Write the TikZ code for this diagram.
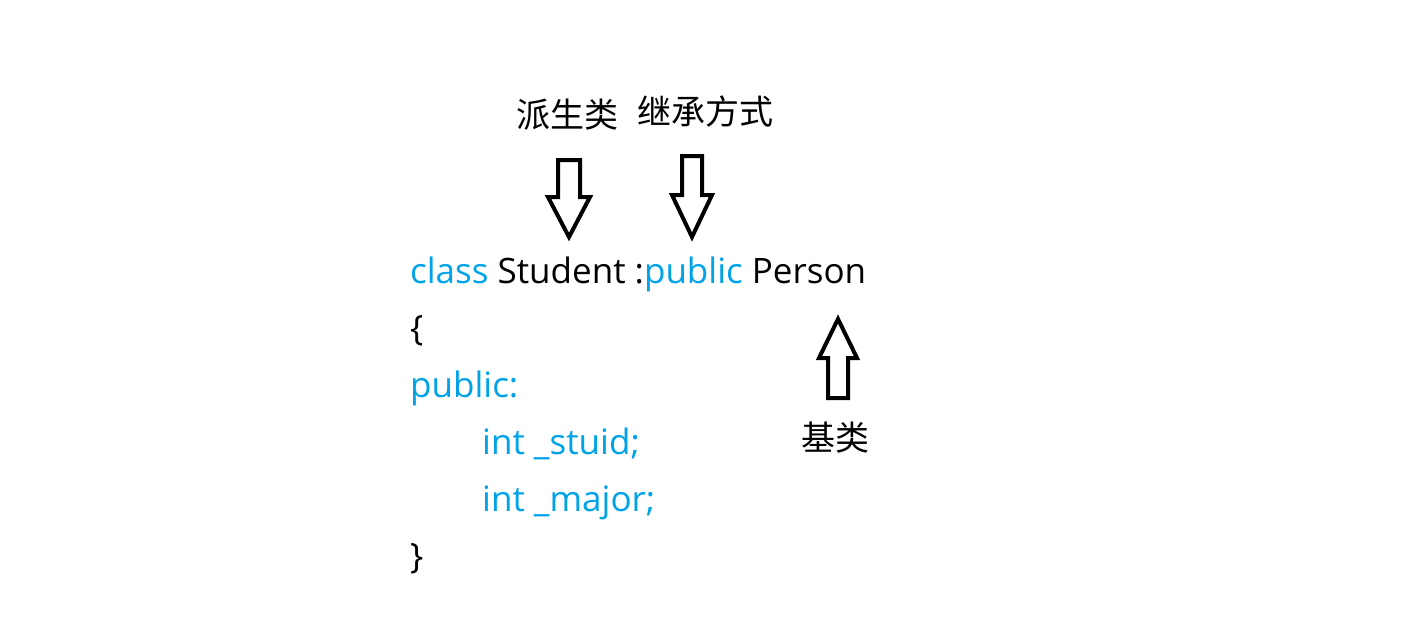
\documentclass[tikz,border=0pt]{standalone}
\usepackage{fontspec}
\setmainfont{Open Sans}
\newfontfamily\cjkfont{Noto Sans CJK SC}
\usepackage{xcolor}
\usepackage{tikz}
\usetikzlibrary{positioning}
\definecolor{kwBlue}{RGB}{0, 162, 232}
\definecolor{textBlack}{RGB}{0, 0, 0}
\tikzset{
    code_line/.style={
        anchor=base west,
        inner sep=0pt,
        text=textBlack,
        font=\fontsize{35}{35}\selectfont
    },
    note_label/.style={
        anchor=center,
        inner sep=0pt,
        text=textBlack,
        font=\cjkfont\fontsize{34}{34}\selectfont
    },
    block_arrow/.style={
        draw=textBlack,
        fill=white,
        line width=4pt,
        line join=miter
    }
}
\newcommand{\kw}[1]{\textcolor{kwBlue}{#1}}

\begin{document}
\begin{tikzpicture}[x=1pt, y=-1pt]
        \useasboundingbox (0,0) rectangle (1405,637);

        % code lines
        \node[code_line] (l1) at (410,283) {\kw{class} Student :\kw{public} Person};
        \node[code_line] (l2) at (410,340) {\{};
        \node[code_line] (l3) at (410,397) {\kw{public:}};
        \node[code_line] (l4) at (482,454) {\kw{int \_stuid;}};
        \node[code_line] (l5) at (482,511) {\kw{int \_major;}};
        \node[code_line] (l6) at (410,568) {\}};

        % labels
        \node[note_label] (derived) at (567,115) {派生类};
        \node[note_label] (mode) at (705,112) {继承方式};
        \node[note_label] (base) at (835,438) {基类};

        % block arrows
        \coordinate (tipDerived) at (569,237);
        \coordinate (tipMode) at (692,237);
        \coordinate (tipBase) at (838,319);

        \draw[block_arrow] (tipDerived) -- ++(-21,-40) -- ++(10,0) -- ++(0,-37)
            -- ++(22,0) -- ++(0,37) -- ++(10,0) -- cycle;
        \draw[block_arrow] (tipMode) -- ++(-20,-42) -- ++(10,0) -- ++(0,-39)
            -- ++(20,0) -- ++(0,39) -- ++(10,0) -- cycle;
        \draw[block_arrow] (tipBase) -- ++(-19,39) -- ++(9,0) -- ++(0,40)
            -- ++(20,0) -- ++(0,-40) -- ++(9,0) -- cycle;
    \end{tikzpicture}
\end{document}
